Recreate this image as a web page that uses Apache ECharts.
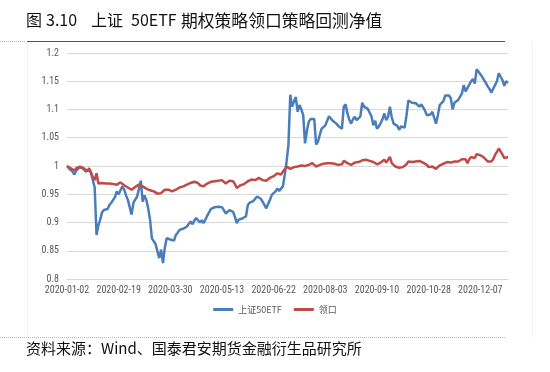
<!DOCTYPE html>
<html>
<head>
<meta charset="utf-8">
<script src="https://cdn.jsdelivr.net/npm/echarts@6/dist/echarts.min.js"></script>
<style>
html,body{margin:0;padding:0;background:#fff;}
#chart{width:550px;height:372px;}
</style>
</head>
<body>
<div id="chart"></div>
<script>
// Trading-day calendar (SSE 2020), used only for category labels
const startDate = '2020-01-02';
const endDate = '2020-12-28';
const holidays = ['2020-01-01','2020-01-24','2020-01-27','2020-01-28','2020-01-29','2020-01-30','2020-01-31',
  '2020-04-06','2020-05-01','2020-05-04','2020-05-05','2020-06-25','2020-06-26',
  '2020-10-01','2020-10-02','2020-10-05','2020-10-06','2020-10-07','2020-10-08'];

const seriesNames = ['上证50ETF', '领口'];

const etf = [
1.000,0.996,0.993,0.990,0.985,0.992,0.995,0.998,1.000,0.995,
0.990,0.991,0.993,0.988,0.975,0.962,0.878,0.895,0.905,0.918,
0.922,0.921,0.924,0.931,0.935,0.937,0.945,0.955,0.950,0.952,
0.964,0.958,0.948,0.940,0.938,0.914,0.935,0.938,0.946,0.960,
0.974,0.937,0.948,0.940,0.925,0.905,0.872,0.870,0.862,0.849,
0.837,0.852,0.828,0.855,0.872,0.870,0.870,0.867,0.868,0.878,
0.882,0.887,0.890,0.889,0.886,0.893,0.891,0.902,0.897,0.903,
0.908,0.904,0.900,0.904,0.899,0.905,0.912,0.918,0.924,0.926,
0.927,0.925,0.928,0.928,0.927,0.922,0.916,0.918,0.922,0.925,
0.919,0.910,0.899,0.905,0.908,0.907,0.910,0.911,0.931,0.935,
0.937,0.938,0.942,0.946,0.949,0.942,0.937,0.939,0.925,0.933,
0.940,0.949,0.950,0.955,0.960,0.956,0.960,0.964,0.984,1.008,
1.037,1.126,1.105,1.114,1.122,1.096,1.108,1.100,1.090,1.040,
1.062,1.078,1.083,1.083,1.083,1.038,1.043,1.055,1.066,1.063,
1.072,1.080,1.088,1.085,1.080,1.077,1.075,1.071,1.068,1.066,
1.105,1.109,1.093,1.082,1.075,1.083,1.087,1.081,1.083,1.088,
1.112,1.105,1.102,1.101,1.099,1.088,1.072,1.080,1.066,1.070,
1.076,1.083,1.093,1.081,1.087,1.105,1.086,1.075,1.078,1.071,
1.064,1.070,1.072,1.068,1.090,1.116,1.114,1.112,1.113,1.111,
1.114,1.105,1.109,1.104,1.098,1.090,1.087,1.091,1.096,1.085,
1.075,1.090,1.108,1.107,1.115,1.125,1.127,1.125,1.120,1.100,
1.112,1.115,1.117,1.120,1.128,1.143,1.132,1.138,1.144,1.150,
1.154,1.146,1.171,1.167,1.166,1.158,1.152,1.147,1.141,1.136,
1.130,1.137,1.140,1.150,1.164,1.158,1.152,1.142,1.150,1.147
];

const collar = [
1.000,0.998,0.996,0.994,0.992,0.996,0.995,0.999,1.002,0.996,
0.993,0.991,0.996,0.988,0.980,0.975,0.987,0.969,0.970,0.970,
0.969,0.969,0.970,0.969,0.969,0.968,0.968,0.967,0.970,0.971,
0.968,0.966,0.964,0.962,0.960,0.958,0.960,0.963,0.965,0.967,
0.969,0.964,0.962,0.960,0.958,0.957,0.955,0.955,0.953,0.951,
0.950,0.952,0.955,0.958,0.958,0.958,0.957,0.955,0.956,0.958,
0.960,0.962,0.963,0.964,0.966,0.967,0.967,0.970,0.971,0.972,
0.974,0.970,0.966,0.968,0.964,0.966,0.969,0.971,0.972,0.973,
0.973,0.974,0.974,0.974,0.975,0.972,0.969,0.971,0.974,0.975,
0.973,0.968,0.961,0.964,0.966,0.967,0.968,0.969,0.973,0.975,
0.976,0.976,0.975,0.977,0.979,0.977,0.975,0.976,0.974,0.976,
0.979,0.981,0.982,0.984,0.987,0.987,0.985,0.990,0.994,0.999,
0.996,0.995,0.997,0.998,0.999,0.999,1.000,1.001,1.000,1.000,
1.002,1.002,1.003,1.005,1.003,0.999,1.001,1.002,1.003,1.004,
1.005,1.005,1.005,1.005,1.004,1.004,1.003,1.002,1.002,1.003,
1.009,1.008,1.005,1.003,1.002,1.005,1.006,1.007,1.007,1.009,
1.010,1.012,1.011,1.010,1.009,1.008,1.007,1.005,1.003,1.004,
1.006,1.009,1.011,1.006,1.008,1.016,1.005,1.003,0.999,0.998,
0.997,0.997,0.998,0.999,1.003,1.008,1.008,1.007,1.008,1.008,
1.009,1.009,1.007,1.006,1.004,1.002,0.998,0.998,0.999,0.997,
0.995,0.998,1.001,1.003,1.004,1.006,1.007,1.006,1.006,1.003,
1.008,1.008,1.008,1.010,1.012,1.014,1.012,1.005,1.012,1.016,
1.018,1.014,1.021,1.020,1.019,1.018,1.015,1.012,1.008,1.005,
1.008,1.012,1.020,1.025,1.031,1.028,1.020,1.014,1.016,1.016
];

const yMin = 0.8, yMax = 1.2, yStep = 0.05;

// build category labels
function buildDates() {
  const out = [];
  const d = new Date(startDate + 'T00:00:00Z');
  const end = new Date(endDate + 'T00:00:00Z');
  while (d <= end) {
    const s = d.toISOString().slice(0, 10);
    const wd = d.getUTCDay();
    if (wd !== 0 && wd !== 6 && holidays.indexOf(s) < 0) out.push(s);
    d.setUTCDate(d.getUTCDate() + 1);
  }
  return out;
}
const dates = buildDates();

const chart = echarts.init(document.getElementById('chart'), null, {renderer: 'canvas'});
const axisFont = {fontFamily: '"Liberation Sans Narrow", "Roboto Condensed", "Liberation Sans", sans-serif', fontSize: 10, color: '#595959'};
const cjk = '"Noto Sans CJK SC", sans-serif';
const titleFont = '16px ' + cjk;

chart.setOption({
  animation: false,
  backgroundColor: '#fff',
  grid: {left: 67, right: 42, top: 53, bottom: 93, containLabel: false},
  xAxis: {
    type: 'category',
    data: dates,
    boundaryGap: false,
    axisLine: {show: true, lineStyle: {color: '#D9D9D9', width: 1}},
    axisTick: {show: false},
    axisLabel: Object.assign({interval: 27, margin: 6, hideOverlap: false}, axisFont),
    splitLine: {show: false}
  },
  yAxis: {
    type: 'value',
    min: yMin, max: yMax, interval: yStep,
    axisLine: {show: false},
    axisTick: {show: false},
    axisLabel: Object.assign({margin: 8, formatter: v => String(+v.toFixed(2))}, axisFont),
    splitLine: {lineStyle: {color: '#D9D9D9', width: 1}}
  },
  legend: {
    data: seriesNames,
    bottom: 53,
    left: 'center',
    itemWidth: 20, itemHeight: 3, itemGap: 12,
    icon: 'rect',
    textStyle: {fontFamily: cjk, fontSize: 9, color: '#595959'}
  },
  series: [
    {name: seriesNames[0], type: 'line', data: etf, showSymbol: false, symbol: 'none',
     lineStyle: {color: '#4A7EBB', width: 2.5}, itemStyle: {color: '#4A7EBB'}},
    {name: seriesNames[1], type: 'line', data: collar, showSymbol: false, symbol: 'none',
     lineStyle: {color: '#BE4B48', width: 2.5}, itemStyle: {color: '#BE4B48'}}
  ],
  graphic: [
    {type: 'text', left: 26, top: 12, style: {text: '图', font: titleFont, fill: '#111'}},
    {type: 'text', left: 46, top: 12, style: {text: '3.10', font: titleFont, fill: '#111'}},
    {type: 'text', left: 91, top: 12, style: {text: '上证', font: titleFont, fill: '#111'}},
    {type: 'text', left: 131, top: 12, style: {text: '50ETF', font: titleFont, fill: '#111'}},
    {type: 'text', left: 181, top: 12, style: {text: '期权策略领口策略回测净值', font: '16.8px ' + cjk, fill: '#111'}},
    {type: 'line', shape: {x1: 27, y1: 41.5, x2: 505, y2: 41.5}, style: {stroke: '#555', lineWidth: 1}},
    {type: 'line', shape: {x1: 0, y1: 41.5, x2: 26, y2: 41.5}, style: {stroke: '#BBB', lineWidth: 1, lineDash: [1, 1]}},
    {type: 'line', shape: {x1: 27.5, y1: 42, x2: 27.5, y2: 337}, style: {stroke: '#F2F2F2', lineWidth: 1}},
    {type: 'line', shape: {x1: 532.5, y1: 42, x2: 532.5, y2: 337}, style: {stroke: '#F2F2F2', lineWidth: 1}},
    {type: 'line', shape: {x1: 0, y1: 337.5, x2: 505, y2: 337.5}, style: {stroke: '#BBB', lineWidth: 1, lineDash: [1, 1]}},
    {type: 'text', left: 26, top: 341, style: {text: '资料来源：Wind、国泰君安期货金融衍生品研究所', font: '15px ' + cjk, fill: '#111'}}
  ]
});
</script>
</body>
</html>
